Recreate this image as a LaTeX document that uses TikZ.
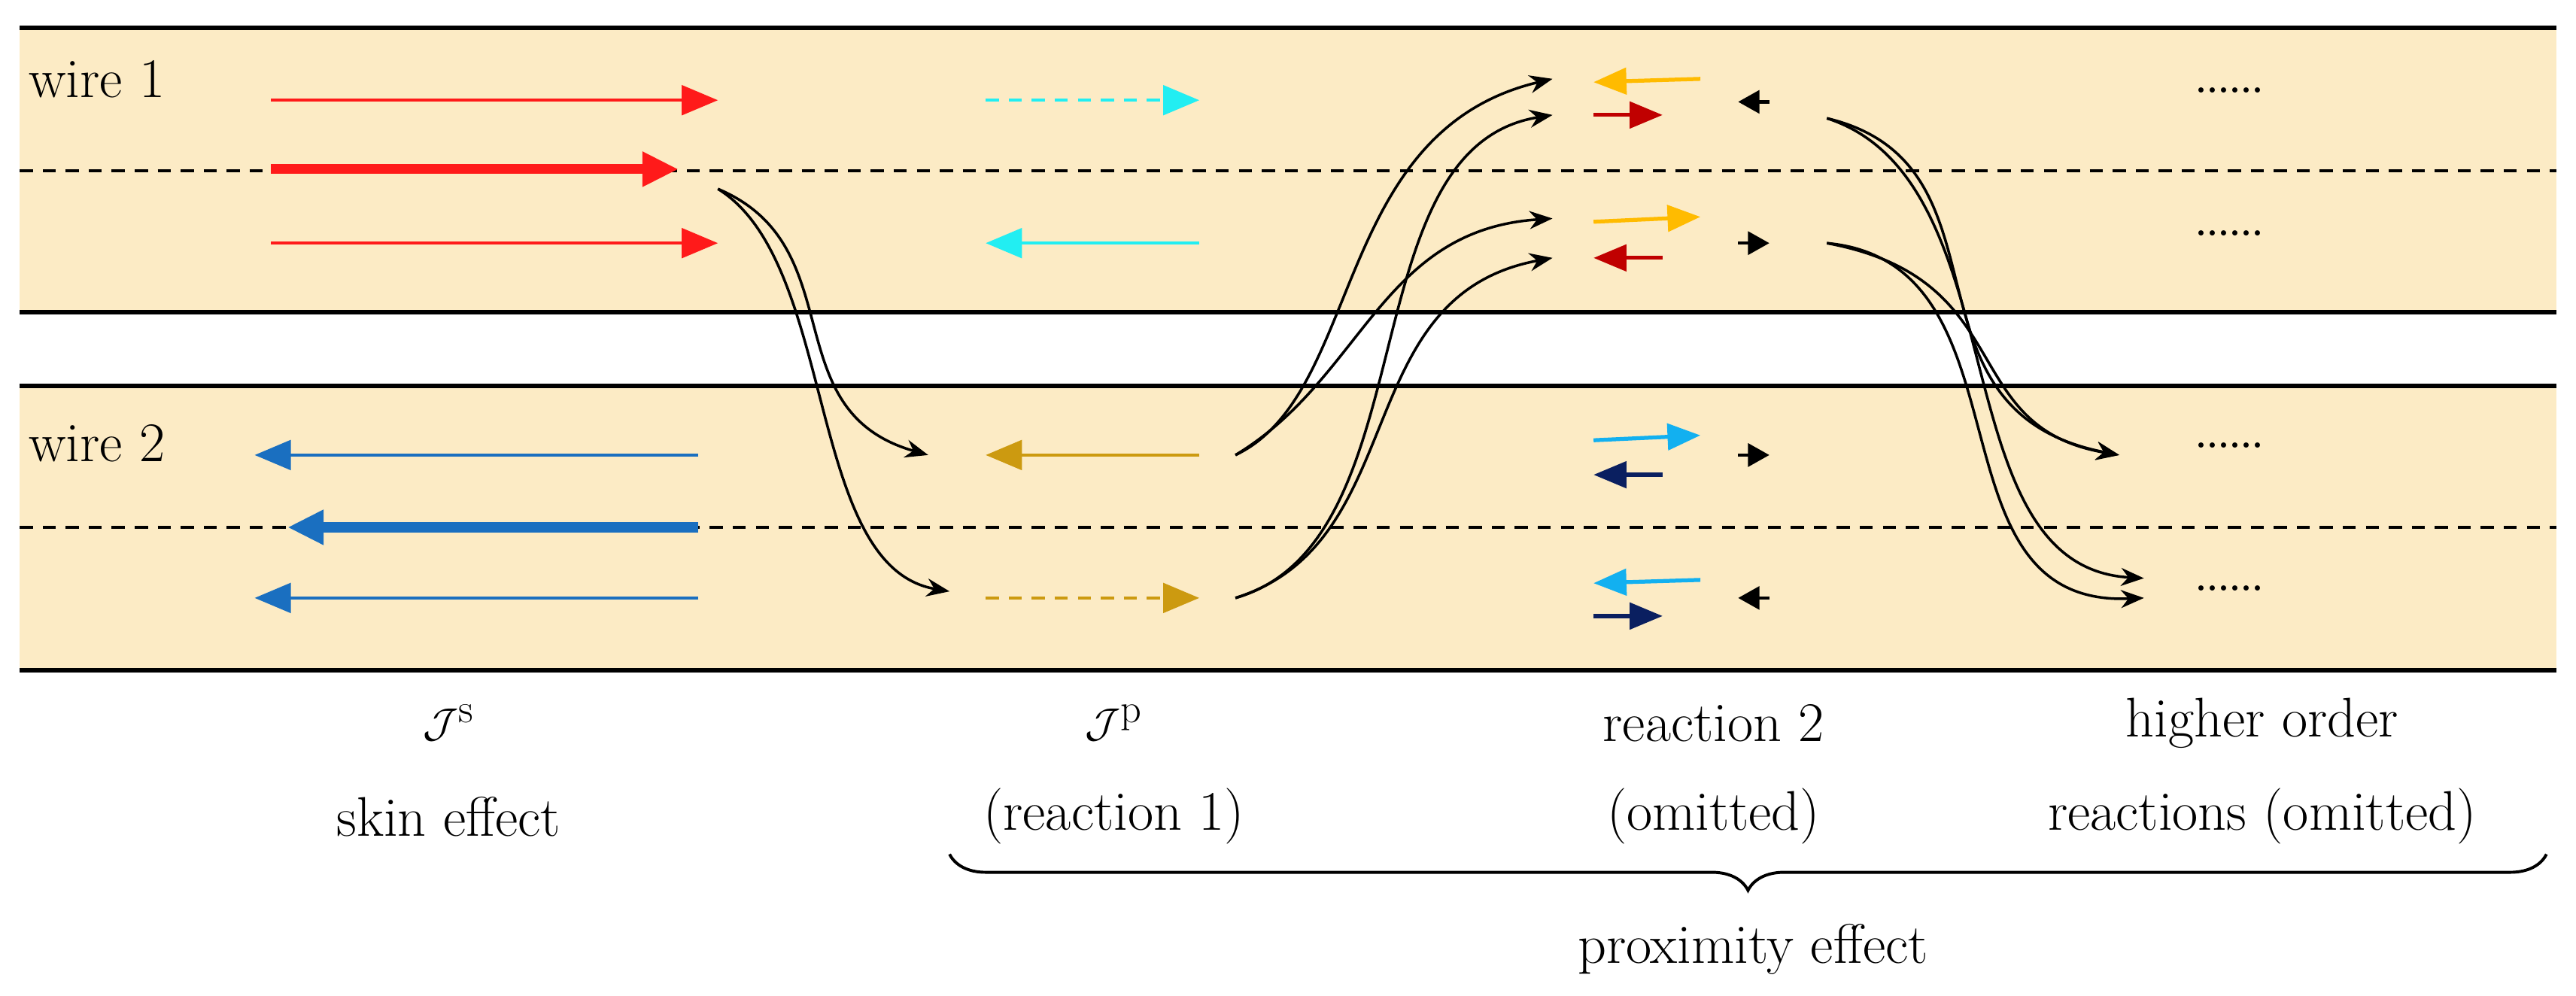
\documentclass[tikz,border=0pt]{standalone}
\usetikzlibrary{arrows.meta,decorations.pathreplacing}
\definecolor{band}{HTML}{FCEBC5}
\definecolor{myred}{HTML}{FF1A1A}
\definecolor{mycyan}{HTML}{22EEF2}
\definecolor{myblue}{HTML}{1A6FC0}
\definecolor{mygold}{HTML}{CC9A10}
\definecolor{myorange}{HTML}{FFBB00}
\definecolor{mydred}{HTML}{C00000}
\definecolor{mylblue}{HTML}{12B0F0}
\definecolor{mynavy}{HTML}{0A1F60}
\begin{document}
\begin{tikzpicture}[x=1pt,y=-1pt,
 lab/.style={font=\fontsize{34}{40}\selectfont},
 thin/.style={line width=2pt,-{Triangle[length=22pt,width=18pt]}},
 thick/.style={line width=6pt,-{Triangle[length=22pt,width=20pt]}},
 small/.style={line width=2.4pt,-{Triangle[length=20pt,width=16pt]}},
 tiny/.style={line width=2pt,-{Triangle[length=13pt,width=14pt]}},
 curve/.style={line width=1.6pt,-{Stealth[length=14pt,width=11pt]}},
 sep/.style={line width=2.5pt},
 dsh/.style={line width=1.6pt,dash pattern=on 8pt off 6pt}]
\useasboundingbox (0,0) rectangle (1568,606);
\fill[band] (12,17) rectangle (1556,190);
\fill[band] (12,235) rectangle (1556,408);
\foreach \y in {17,190,235,408} \draw[sep] (12,\y) -- (1556,\y);
\foreach \y in {104,321} \draw[dsh] (12,\y) -- (1556,\y);
\node[lab,anchor=west] (w1) at (14,48) {wire 1};
\node[lab,anchor=west] (w2) at (14,270) {wire 2};
% skin
\draw[thin,myred] (165,61) -- (437,61);
\draw[thick,myred] (165,103) -- (413,103);
\draw[thin,myred] (165,148) -- (437,148);
\draw[thin,myblue] (425,277) -- (155,277);
\draw[thick,myblue] (425,321) -- (175,321);
\draw[thin,myblue] (425,364) -- (155,364);
% reaction1
\draw[thin,mycyan,dash pattern=on 8pt off 6pt] (600,61) -- (730,61);
\draw[thin,mycyan] (730,148) -- (600,148);
\draw[thin,mygold] (730,277) -- (600,277);
\draw[thin,mygold,dash pattern=on 8pt off 6pt] (600,364) -- (730,364);
% reaction2
\draw[small,myorange] (1035,48) -- (970,50);
\draw[small,mydred] (970,70) -- (1012,70);
\draw[tiny] (1077,62) -- (1058,62);
\draw[small,myorange] (970,135) -- (1035,132);
\draw[small,mydred] (1012,157) -- (970,157);
\draw[tiny] (1058,148) -- (1077,148);
\draw[small,mylblue] (970,268) -- (1035,265);
\draw[small,mynavy] (1012,289) -- (970,289);
\draw[tiny] (1058,277) -- (1077,277);
\draw[small,mylblue] (1035,353) -- (970,355);
\draw[small,mynavy] (970,375) -- (1012,375);
\draw[tiny] (1077,364) -- (1058,364);
% dots
\foreach \y in {61,148,277,364} \node[font=\fontsize{22}{24}\selectfont\bfseries] at (1357,\y-6) {......};
% curves
\coordinate (s) at (437,115);
\coordinate (g1) at (752,277); \coordinate (g2) at (752,364);
\coordinate (r1) at (1112,72); \coordinate (r2) at (1112,148);
\draw[curve] (s) .. controls (520,150) and (470,250) .. (565,277);
\draw[curve] (s) .. controls (510,160) and (490,345) .. (578,360);
\draw[curve] (g1) .. controls (830,240) and (810,80) .. (945,48);
\draw[curve] (g1) .. controls (830,230) and (840,140) .. (945,133);
\draw[curve] (g2) .. controls (870,330) and (820,90) .. (945,70);
\draw[curve] (g2) .. controls (860,330) and (820,180) .. (945,157);
\draw[curve] (r1) .. controls (1230,100) and (1150,250) .. (1290,277);
\draw[curve] (r1) .. controls (1230,110) and (1180,345) .. (1305,352);
\draw[curve] (r2) .. controls (1230,170) and (1190,260) .. (1290,277);
\draw[curve] (r2) .. controls (1240,160) and (1170,370) .. (1305,364);
% labels
\node[lab] (l1) at (273,440) {$\mathcal{J}^{\mathrm{s}}$};
\node[lab] (l2) at (273,497) {skin effect};
\node[lab] (l3) at (678,440) {$\mathcal{J}^{\mathrm{p}}$};
\node[lab] (l4) at (678,497) {(reaction 1)};
\node[lab] (l5) at (1043,440) {reaction 2};
\node[lab] (l6) at (1043,497) {(omitted)};
\node[lab] (l7) at (1377,440) {higher order};
\node[lab] (l8) at (1377,497) {reactions (omitted)};
\draw[line width=1.8pt,decorate,decoration={brace,mirror,amplitude=22pt}] (578,520) -- (1550,520);
\node[lab] (p) at (1067,578) {proximity effect};
\end{tikzpicture}
\end{document}
